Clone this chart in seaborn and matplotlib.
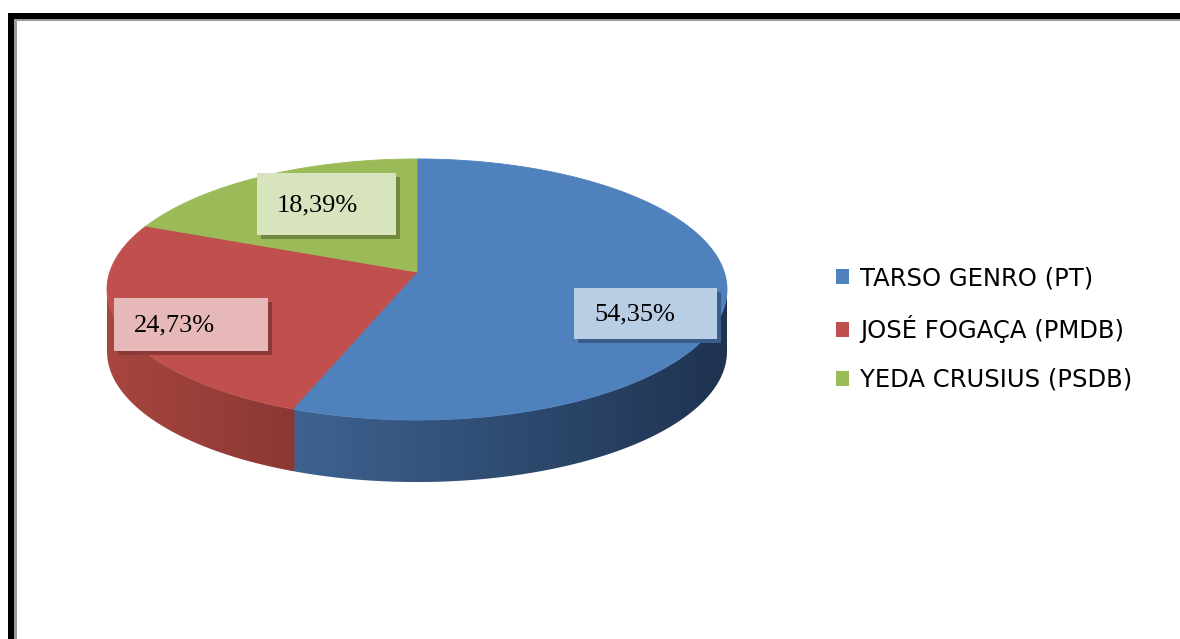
import numpy as np
import matplotlib
matplotlib.use("Agg")
import matplotlib.pyplot as plt
import seaborn as sns
from matplotlib.patches import Polygon, Rectangle, Patch
from matplotlib.colors import LinearSegmentedColormap

# data
candidates = ["TARSO GENRO (PT)", "JOSÉ FOGAÇA (PMDB)", "YEDA CRUSIUS (PSDB)"]
shares = [54.35, 24.73, 18.39]
top_colors = ["#4F81BD", "#C0504D", "#9BBB59"]
box_colors = ["#B9CDE5", "#E6B9B8", "#D7E4BD"]
shadow_colors = ["#385D8A", "#8C3836", "#71893F"]
side_colors = [("#3E6391", "#1F3350"), ("#A8453F", "#8A3835"), ("#9BBB59", "#71893F")]

sns.set_theme(style="white")
plt.rcParams["font.family"] = ["Liberation Serif", "DejaVu Serif"]

fig = plt.figure(figsize=(11.8, 6.39), dpi=100)
ax = fig.add_axes([0, 0, 1, 1])

# projection of the pie disc (pixel coords, y downwards)
cx, cy = 417, 272
A, B, k = 307.2, 128.2, 0.134
depth = 62


def project(t, dz=0):
    u, w = np.cos(t), np.sin(t)
    d = 1 + k * w
    return cx + A * u / d, cy - B * w / d + dz


fr = np.array(shares) / sum(shares)
starts = np.pi / 2 - 2 * np.pi * np.concatenate([[0], np.cumsum(fr)[:-1]])
ends = starts - 2 * np.pi * fr

# visible front side lies between the two silhouette angles
vis_lo, vis_hi = -np.pi + np.arcsin(k), -np.arcsin(k)

for i in range(len(shares)):
    a0, a1 = ends[i] - 0.006, starts[i] + 0.006
    lo, hi = max(a0, vis_lo), min(a1, vis_hi)
    if hi <= lo:
        continue
    t = np.linspace(lo, hi, 120)
    xt, yt = project(t)
    xb, yb = project(t[::-1], depth)
    xs = np.concatenate([xt, xb])
    ys = np.concatenate([yt, yb])
    poly = Polygon(np.column_stack([xs, ys]), closed=True, facecolor="none", edgecolor="none")
    ax.add_patch(poly)
    cmap = LinearSegmentedColormap.from_list("side%d" % i, side_colors[i])
    grad = np.linspace(0, 1, 256).reshape(1, -1)
    im = ax.imshow(grad, extent=(xs.min(), xs.max(), ys.max(), ys.min()),
                   cmap=cmap, aspect="auto", interpolation="bilinear")
    im.set_clip_path(poly)

for i in range(len(shares)):
    t = np.linspace(starts[i], ends[i], 200)
    x, y = project(t)
    ax.fill(np.concatenate([[cx], x]), np.concatenate([[cy], y]),
            facecolor=top_colors[i], edgecolor=top_colors[i], linewidth=0.6)

# data labels (box layout in pixels)
label_boxes = [(574, 288, 143, 51), (114, 298, 154, 53), (257, 173, 139, 62)]
for i, (bx, by, bw, bh) in enumerate(label_boxes):
    ax.add_patch(Rectangle((bx + 4, by + 4), bw, bh, facecolor=shadow_colors[i], edgecolor="none"))
    ax.add_patch(Rectangle((bx, by), bw, bh, facecolor=box_colors[i], edgecolor="none"))
    txt = ("%.2f" % shares[i]).replace(".", ",") + "%"
    ax.text(bx + 20, by + bh / 2 + 1, txt, fontsize=19, color="black",
            ha="left", va="center")

# frame around the chart area
ax.add_patch(Rectangle((8, 13), 6, 640, facecolor="black", edgecolor="none"))
ax.add_patch(Rectangle((8, 13), 1180, 6, facecolor="black", edgecolor="none"))
ax.add_patch(Rectangle((14, 19), 3, 640, facecolor="#9A9A9A", edgecolor="none"))
ax.add_patch(Rectangle((14, 19), 1180, 2, facecolor="#9A9A9A", edgecolor="none"))

ax.set_xlim(0, 1180)
ax.set_ylim(639, 0)
ax.axis("off")

handles = [Patch(facecolor=c, edgecolor="none") for c in top_colors]
fig.legend(handles, candidates, loc="center left",
           bbox_to_anchor=(836 / 1180, 1 - 329 / 639), frameon=False,
           prop={"family": ["DejaVu Sans"], "size": 17.5}, labelcolor="black",
           handlelength=0.55, handleheight=0.55, handletextpad=0.45,
           labelspacing=1.02, borderpad=0, borderaxespad=0)

fig.savefig("out.png", dpi=100, facecolor="white")
